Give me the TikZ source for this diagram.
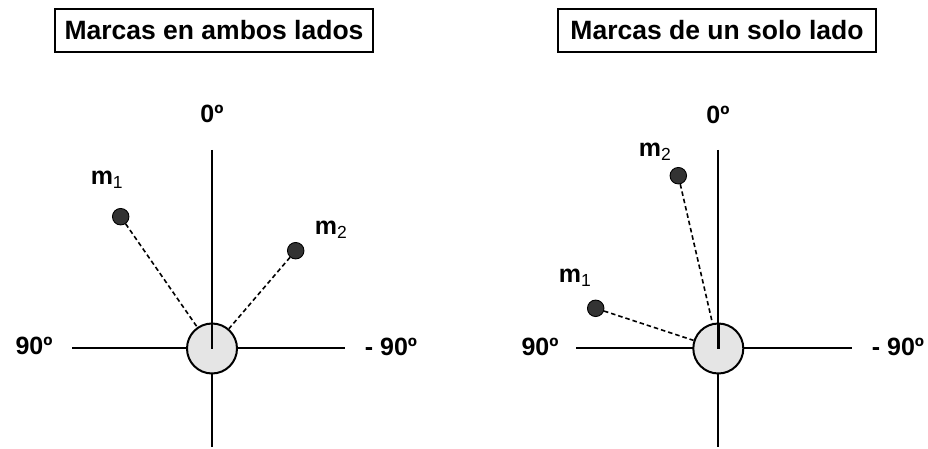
\documentclass[tikz,border=0pt]{standalone}
\usepackage{fontspec}
\setmainfont{Liberation Sans}
\usetikzlibrary{positioning}

\begin{document}
\begin{tikzpicture}[x=1pt, y=-1pt,
  title/.style={draw, line width=1.8pt, minimum width=318pt, minimum height=43pt, inner sep=0pt, font=\fontsize{26.5}{30}\selectfont\bfseries},
  lbl/.style={inner sep=0pt, font=\fontsize{25}{28}\selectfont\bfseries},
  hub/.style={circle, draw, line width=2pt, fill=black!10, minimum size=50pt, inner sep=0pt},
  markdot/.style={circle, draw, line width=0.9pt, fill=black!80, minimum size=16.5pt, inner sep=0pt},
  axis/.style={line width=1.7pt},
  link/.style={line width=1.6pt, dash pattern=on 4.5pt off 3pt}]
  \useasboundingbox (0, 0) rectangle (928, 449);

  % left: marks on both sides
  \node[title] (titleL) at (214, 30.5) {Marcas en ambos lados};
  \coordinate (topL) at (212, 150);
  \coordinate (botL) at (212, 447);
  \coordinate (leftL) at (72, 348);
  \coordinate (rightL) at (345, 348);
  \draw[axis] (topL) to (botL);
  \draw[axis] (leftL) to (rightL);
  \node[hub] (hubL) at (212, 348.5) {};
  \draw[line width=2.8pt] (hubL.center) to (hubL.north);
  \node[lbl] (zeroL) at (212, 114) {0º};
  \node[lbl] (plusL) at (34, 346) {90º};
  \node[lbl] (minusL) at (391, 347) {- 90º};
  \node[markdot] (mOneL) at (120.7, 216.7) {};
  \node[markdot] (mTwoL) at (295.7, 250.7) {};
  \node[lbl] at (107, 180) {m\textsubscript{\mdseries 1}};
  \node[lbl] at (331, 230) {m\textsubscript{\mdseries 2}};
  \draw[link] (mOneL) to (hubL);
  \draw[link] (mTwoL) to (hubL);

  % right: marks on one side only
  \node[title] (titleR) at (717, 30.3) {Marcas de un solo lado};
  \coordinate (topR) at (718, 150);
  \coordinate (botR) at (718, 447);
  \coordinate (leftR) at (576, 348);
  \coordinate (rightR) at (852, 348);
  \draw[axis] (topR) to (botR);
  \draw[axis] (leftR) to (rightR);
  \node[hub] (hubR) at (718.3, 348.5) {};
  \draw[line width=2.8pt] (hubR.center) to (hubR.north);
  \node[lbl] (zeroR) at (718, 115) {0º};
  \node[lbl] (plusR) at (540, 347) {90º};
  \node[lbl] (minusR) at (898, 347) {- 90º};
  \node[markdot] (mOneR) at (595.7, 308.3) {};
  \node[markdot] (mTwoR) at (678.3, 175.7) {};
  \node[lbl] at (575, 278) {m\textsubscript{\mdseries 1}};
  \node[lbl] at (655, 152) {m\textsubscript{\mdseries 2}};
  \draw[link] (mOneR) to (hubR);
  \draw[link] (mTwoR) to (hubR);
\end{tikzpicture}
\end{document}
